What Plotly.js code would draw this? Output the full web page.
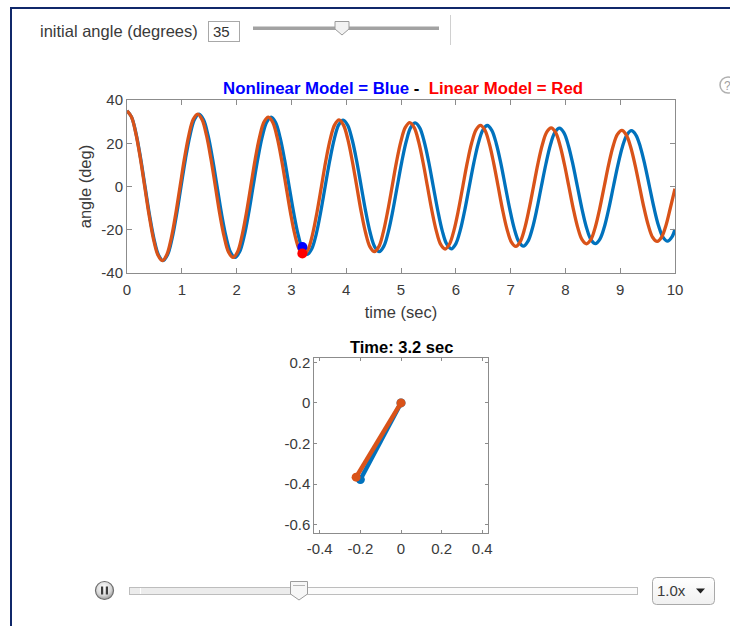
<!DOCTYPE html>
<html>
<head>
<meta charset="utf-8">
<script src="https://cdn.plot.ly/plotly-3.0.1.min.js"></script>
<style>
  html, body { margin: 0; padding: 0; background: #fff; }
  #wrap { position: relative; width: 730px; height: 626px; overflow: hidden; background: #fff; }
  #plot { position: absolute; left: 0; top: 0; width: 730px; height: 626px; }
  #ui { position: absolute; left: 0; top: 0; width: 730px; height: 626px; pointer-events: none; }
</style>
</head>
<body>
<div id="wrap">
  <div id="plot"></div>
  <svg id="ui" width="730" height="626" xmlns="http://www.w3.org/2000/svg">
    <defs>
      <radialGradient id="btnGrad" cx="0.45" cy="0.35" r="0.7">
        <stop offset="0" stop-color="#ffffff"/>
        <stop offset="0.6" stop-color="#d8d8d8"/>
        <stop offset="1" stop-color="#8a8a8a"/>
      </radialGradient>
      <linearGradient id="ddGrad" x1="0" y1="0" x2="0" y2="1">
        <stop offset="0" stop-color="#ffffff"/>
        <stop offset="1" stop-color="#f0f0f0"/>
      </linearGradient>
    </defs>
    <!-- outer frame -->
    <rect x="10" y="7" width="2" height="619" fill="#10286a"/>
    <rect x="10" y="7" width="720" height="2" fill="#10286a"/>
    <!-- top control -->
    <text x="40" y="37" font-family="Liberation Sans, Arial, sans-serif" font-size="16.5" fill="#3a3a3a">initial angle (degrees)</text>
    <rect x="208.5" y="21.5" width="31" height="20" fill="#fff" stroke="#a8a8a8" stroke-width="1"/>
    <text x="213" y="37" font-family="Liberation Sans, Arial, sans-serif" font-size="15" fill="#333">35</text>
    <rect x="253" y="26.5" width="186" height="3.5" fill="#a2a2a2"/>
    <polygon points="335,21.5 349,21.5 349,29 342,35 335,29" fill="#f2f2f2" stroke="#9a9a9a" stroke-width="1"/>
    <line x1="450.5" y1="15" x2="450.5" y2="45" stroke="#d0d0d0" stroke-width="1"/>
    <!-- help icon -->
    <circle cx="728" cy="85" r="8" fill="#fff" stroke="#b0b0b0" stroke-width="1.5"/>
    <text x="724" y="90" font-family="Liberation Sans, Arial, sans-serif" font-size="12" fill="#a0a0a0">?</text>
    <!-- bottom player -->
    <circle cx="104.5" cy="590.5" r="9" fill="url(#btnGrad)" stroke="#6e6e6e" stroke-width="1.2"/>
    <rect x="101" y="586.5" width="2.2" height="8" fill="#3c3c3c"/>
    <rect x="105.8" y="586.5" width="2.2" height="8" fill="#3c3c3c"/>
    <rect x="129.5" y="587.5" width="508" height="7" fill="#fbfbfb" stroke="#bdbdbd" stroke-width="1"/>
    <rect x="130" y="588" width="168" height="6" fill="#ececec"/>
    <line x1="140.5" y1="588" x2="140.5" y2="594" stroke="#ffffff" stroke-width="1"/>
    <polygon points="290.5,581.5 307.5,581.5 307.5,594 299,600 290.5,594" fill="#f7f7f7" stroke="#9c9c9c" stroke-width="1"/>
    <line x1="293" y1="585.5" x2="305" y2="585.5" stroke="#b5b5b5" stroke-width="1"/>
    <rect x="652.5" y="577.5" width="62" height="27" rx="4" ry="4" fill="url(#ddGrad)" stroke="#a9a9a9" stroke-width="1"/>
    <text x="657" y="596" font-family="Liberation Sans, Arial, sans-serif" font-size="15" fill="#3a3a3a">1.0x</text>
    <polygon points="696,588.5 705,588.5 700.5,593.5" fill="#222"/>
  </svg>
</div>
<script>
// ---- data ----
// nonlinear model (blue): time (s) and angle (deg)
var tBlue = [0.000,0.082,0.164,0.247,0.329,0.411,0.493,0.575,0.658,0.740,0.822,0.904,0.986,1.068,1.151,1.233,1.315,1.397,1.479,1.562,1.644,1.726,1.808,1.890,1.973,2.055,2.137,2.219,2.301,2.384,2.466,2.548,2.630,2.712,2.794,2.877,2.959,3.041,3.123,3.205,3.288,3.370,3.452,3.534,3.616,3.699,3.781,3.863,3.945,4.027,4.109,4.192,4.274,4.356,4.438,4.520,4.603,4.685,4.767,4.849,4.931,5.014,5.096,5.178,5.260,5.342,5.424,5.507,5.589,5.671,5.753,5.835,5.918,6.000,6.082,6.164,6.246,6.329,6.411,6.493,6.575,6.657,6.739,6.822,6.904,6.986,7.068,7.150,7.233,7.315,7.397,7.479,7.561,7.644,7.726,7.808,7.890,7.972,8.054,8.137,8.219,8.301,8.383,8.465,8.548,8.630,8.712,8.794,8.876,8.959,9.041,9.123,9.205,9.287,9.369,9.452,9.534,9.616,9.698,9.780,9.863,9.945,10.000];
var angBlue = [35.0,32.2,24.6,13.3,0.0,-13.2,-24.3,-31.7,-34.3,-31.6,-24.1,-13.0,0.0,12.9,23.8,31.1,33.5,30.9,23.6,12.7,0.0,-12.7,-23.3,-30.4,-32.8,-30.2,-23.1,-12.5,0.0,12.4,22.8,29.7,32.1,29.6,22.6,12.2,0.0,-12.1,-22.3,-29.1,-31.4,-28.9,-22.1,-11.9,0.0,11.9,21.8,28.5,30.7,28.3,21.6,11.7,0.0,-11.6,-21.4,-27.9,-30.1,-27.7,-21.1,-11.4,0.0,11.4,20.9,27.3,29.4,27.1,20.7,11.2,0.0,-11.1,-20.5,-26.7,-28.8,-26.5,-20.2,-10.9,0.0,10.9,20.0,26.1,28.2,26.0,19.8,10.7,0.0,-10.6,-19.6,-25.5,-27.6,-25.4,-19.4,-10.5,0.0,10.4,19.2,25.0,27.0,24.9,19.0,10.2,0.0,-10.2,-18.8,-24.5,-26.4,-24.3,-18.6,-10.0,0.0,10.0,18.4,23.9,25.8,23.8,18.2,9.8,0.0,-9.8,-18.0,-23.4,-25.3,-23.3,-19.8];
// linear model (red): time (s) and angle (deg)
var tRed = [0.000,0.081,0.161,0.242,0.323,0.403,0.484,0.564,0.645,0.726,0.806,0.887,0.968,1.048,1.129,1.209,1.290,1.371,1.451,1.532,1.613,1.693,1.774,1.854,1.935,2.016,2.096,2.177,2.258,2.338,2.419,2.499,2.580,2.661,2.741,2.822,2.903,2.983,3.064,3.144,3.225,3.306,3.386,3.467,3.548,3.628,3.709,3.789,3.870,3.951,4.031,4.112,4.193,4.273,4.354,4.434,4.515,4.596,4.676,4.757,4.838,4.918,4.999,5.079,5.160,5.241,5.321,5.402,5.483,5.563,5.644,5.724,5.805,5.886,5.966,6.047,6.128,6.208,6.289,6.369,6.450,6.531,6.611,6.692,6.773,6.853,6.934,7.014,7.095,7.176,7.256,7.337,7.418,7.498,7.579,7.659,7.740,7.821,7.901,7.982,8.063,8.143,8.224,8.304,8.385,8.466,8.546,8.627,8.708,8.788,8.869,8.949,9.030,9.111,9.191,9.272,9.353,9.433,9.514,9.594,9.675,9.756,9.836,9.917,10.000];
var angRed = [35.0,32.2,24.6,13.3,0.0,-13.2,-24.4,-31.7,-34.3,-31.6,-24.1,-13.0,0.0,12.9,23.8,31.1,33.5,30.9,23.6,12.7,0.0,-12.7,-23.3,-30.4,-32.8,-30.3,-23.1,-12.5,0.0,12.4,22.8,29.8,32.1,29.6,22.6,12.2,0.0,-12.1,-22.4,-29.1,-31.5,-29.0,-22.1,-11.9,0.0,11.9,21.9,28.5,30.8,28.4,21.7,11.7,0.0,-11.6,-21.4,-27.9,-30.1,-27.8,-21.2,-11.4,0.0,11.4,21.0,27.3,29.5,27.2,20.8,11.2,0.0,-11.1,-20.5,-26.8,-28.9,-26.6,-20.3,-11.0,0.0,10.9,20.1,26.2,28.3,26.1,19.9,10.7,0.0,-10.7,-19.7,-25.7,-27.7,-25.5,-19.5,-10.5,0.0,10.5,19.3,25.1,27.1,25.0,19.1,10.3,0.0,-10.2,-18.9,-24.6,-26.5,-24.5,-18.7,-10.1,0.0,10.0,18.5,24.1,26.0,23.9,18.3,9.9,0.0,-9.8,-18.1,-23.6,-25.4,-23.4,-17.9,-9.7,-1.0];
// current time markers
var tNow = [3.2];
var angBlueNow = [-28.0];
var angRedNow = [-31.0];
// pendulum positions at t = 3.2 s (pivot, bob)
var pendBlueX = [0, -0.200];
var pendBlueY = [0, -0.378];
var pendRedX = [0, -0.221];
var pendRedY = [0, -0.366];
// tick labels
var topXTicks = [0,1,2,3,4,5,6,7,8,9,10];
var topYTicks = [-40,-20,0,20,40];
var topYLabels = ['-40','-20','0','20','40'];
var botXTicks = [-0.4,-0.2,0,0.2,0.4];
var botXLabels = ['-0.4','-0.2','0','0.2','0.4'];
var botYTicks = [-0.6,-0.4,-0.2,0,0.2];
var botYLabels = ['-0.6','-0.4','-0.2','0','0.2'];

var BLUE = '#0072BD', RED = '#D95319';
var FONT = 'Liberation Sans, Arial, Helvetica, sans-serif';
var AXC = '#8c8c8c', TXT = '#3a3a3a';

var traces = [
  {x: tBlue, y: angBlue, type: 'scatter', mode: 'lines', line: {color: BLUE, width: 3.3, shape: 'spline'}, xaxis: 'x', yaxis: 'y', hoverinfo: 'skip'},
  {x: tRed, y: angRed, type: 'scatter', mode: 'lines', line: {color: RED, width: 3.3, shape: 'spline'}, xaxis: 'x', yaxis: 'y', hoverinfo: 'skip'},
  {x: tNow, y: angBlueNow, type: 'scatter', mode: 'markers', marker: {color: '#0000FF', size: 10}, xaxis: 'x', yaxis: 'y'},
  {x: tNow, y: angRedNow, type: 'scatter', mode: 'markers', marker: {color: '#FF0000', size: 10}, xaxis: 'x', yaxis: 'y'},
  {x: pendBlueX, y: pendBlueY, type: 'scatter', mode: 'lines+markers', line: {color: BLUE, width: 4.5}, marker: {color: BLUE, size: 9}, xaxis: 'x2', yaxis: 'y2'},
  {x: pendRedX, y: pendRedY, type: 'scatter', mode: 'lines+markers', line: {color: RED, width: 4.5}, marker: {color: RED, size: 9}, xaxis: 'x2', yaxis: 'y2'}
];

function axisBase() {
  return {
    showline: true, linecolor: AXC, linewidth: 1, mirror: 'ticks',
    ticks: 'inside', ticklen: 5, tickcolor: AXC, tickwidth: 1,
    showgrid: false, zeroline: false, fixedrange: true,
    tickfont: {family: FONT, size: 15, color: TXT}
  };
}

var xa = Object.assign(axisBase(), {
  domain: [127/730, 675/730], range: [0, 10], anchor: 'y',
  tickvals: topXTicks, ticklabelstandoff: 3,
  title: {text: 'time (sec)', font: {family: FONT, size: 16.5, color: TXT}, standoff: 9}
});
var ya = Object.assign(axisBase(), {
  domain: [1 - 273/626, 1 - 100/626], range: [-40, 40], anchor: 'x',
  tickvals: topYTicks, ticktext: topYLabels,
  title: {text: 'angle (deg)', font: {family: FONT, size: 16.5, color: TXT}, standoff: 5}
});
var xa2 = Object.assign(axisBase(), {
  domain: [314.3/730, 487.7/730], range: [-0.427, 0.427], anchor: 'y2',
  tickvals: botXTicks, ticktext: botXLabels, ticklen: 3, ticklabelstandoff: 2
});
var ya2 = Object.assign(axisBase(), {
  domain: [1 - 532.7/626, 1 - 358.3/626], range: [-0.64, 0.22], anchor: 'x2',
  tickvals: botYTicks, ticktext: botYLabels, ticklen: 3
});

var layout = {
  width: 730, height: 626,
  margin: {l: 0, r: 0, t: 0, b: 0},
  paper_bgcolor: '#ffffff', plot_bgcolor: '#ffffff',
  showlegend: false,
  font: {family: FONT, color: TXT},
  title: {
    text: '<b><span style="color:#0000FF">Nonlinear Model = Blue</span><span style="color:#000000"> - </span> <span style="color:#FF0000">Linear Model = Red</span></b>',
    font: {family: FONT, size: 16.8},
    xref: 'paper', yref: 'paper', x: 403/730, y: 1 - 88/626, xanchor: 'center', yanchor: 'middle'
  },
  xaxis: xa, yaxis: ya, xaxis2: xa2, yaxis2: ya2,
  annotations: [
    {text: '<b>Time: 3.2 sec</b>', xref: 'paper', yref: 'paper', x: 401/730, y: 1 - 347/626,
     xanchor: 'center', yanchor: 'middle', showarrow: false, font: {family: FONT, size: 16.5, color: '#000'}}
  ]
};

Plotly.newPlot('plot', traces, layout, {displayModeBar: false, staticPlot: true});
</script>
</body>
</html>
